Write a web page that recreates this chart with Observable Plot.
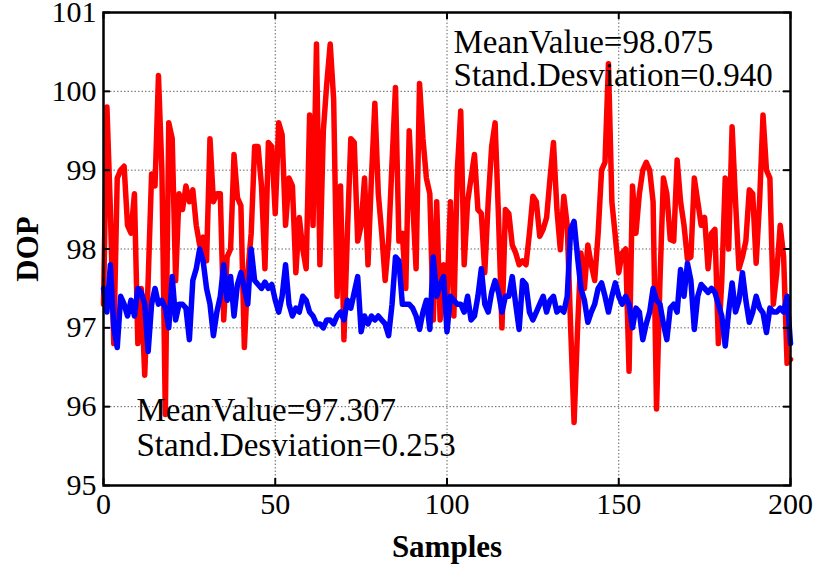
<!DOCTYPE html>
<html>
<head>
<meta charset="utf-8">
<script src="https://cdn.jsdelivr.net/npm/d3@7"></script>
<script src="https://cdn.jsdelivr.net/npm/@observablehq/plot@0.6"></script>
<style>
  html, body { margin: 0; padding: 0; background: #fff; }
</style>
</head>
<body>
<div id="chart"></div>
<script>
const redValues = [
97.3,99.8,98.5,96.8,98.9,99.0,99.05,98.3,98.2,98.7,
96.8,97.5,96.4,97.6,98.95,98.8,100.2,99.0,95.9,99.6,
99.4,97.6,98.7,98.5,98.8,98.6,98.75,98.3,98.05,98.15,
97.85,99.4,98.6,98.7,98.7,97.1,97.9,98.0,99.2,98.65,
98.55,96.75,97.7,98.2,99.3,99.3,98.8,97.75,99.35,99.3,
98.45,99.6,99.45,98.3,98.9,98.8,97.7,98.4,98.0,97.75,
99.7,98.3,100.6,97.8,99.5,100.1,100.6,99.9,97.4,98.8,
96.85,98.2,99.4,99.35,98.1,98.3,98.9,97.8,98.9,99.85,
98.7,98.2,97.6,98.1,99.1,100.05,98.1,98.2,97.5,99.5,
98.6,97.75,100.1,99.4,98.9,98.7,97.1,98.6,97.1,97.8,
97.4,98.6,97.15,99.0,99.75,97.8,98.6,98.9,99.2,98.5,
98.45,97.7,98.6,99.3,99.6,98.4,97.0,98.5,98.45,98.05,
97.95,97.8,97.85,97.8,98.2,98.67,98.6,98.16,98.25,98.4,
98.9,99.35,98.5,97.99,98.67,98.3,97.0,95.8,96.98,97.95,
97.5,98.05,97.8,97.6,98.2,99.0,99.1,100.35,98.6,98.16,
97.7,97.95,98.0,96.45,98.8,98.2,98.7,99.0,99.1,99.0,
98.6,95.97,97.6,98.9,98.7,98.12,98.1,99.13,98.6,98.3,
97.87,97.9,98.9,98.6,98.3,98.4,97.75,98.2,98.25,96.8,
97.6,98.9,98.0,99.55,98.6,97.75,97.9,98.1,98.75,98.7,
97.82,98.6,99.7,99.0,98.9,97.3,97.7,98.3,97.9,96.55,
96.6
];
const blueValues = [
97.5,97.2,97.8,97.0,96.75,97.4,97.3,97.15,97.35,97.15,
97.5,97.45,97.3,96.7,97.3,97.5,97.3,97.35,97.25,97.0,
97.65,97.1,97.3,97.3,97.25,96.85,97.6,97.75,98.0,97.85,
97.5,97.3,96.9,97.2,97.4,97.8,97.35,97.65,97.15,97.55,
97.7,97.5,97.3,98.0,97.6,97.55,97.5,97.58,97.5,97.55,
97.35,97.2,97.4,97.8,97.3,97.15,97.25,97.2,97.4,97.35,
97.2,97.15,97.05,97.05,97.0,97.1,97.1,97.05,97.15,97.2,
97.1,97.35,97.25,97.45,97.65,96.95,97.15,97.05,97.15,97.1,
97.15,97.1,97.05,96.9,97.3,97.9,97.85,97.3,97.3,97.3,
97.25,97.15,96.98,97.2,97.35,96.98,97.9,97.4,97.55,97.65,
96.95,97.4,97.35,97.3,97.3,97.2,97.4,97.1,97.15,97.4,
97.75,97.3,97.2,97.45,97.6,97.45,97.2,97.4,97.4,97.65,
97.3,96.98,97.6,97.55,97.2,97.1,97.2,97.3,97.4,97.2,
97.35,97.4,97.2,97.25,97.2,97.4,98.25,98.35,97.9,97.5,
97.35,97.07,97.2,97.3,97.5,97.57,97.4,97.2,97.4,97.57,
97.4,97.3,97.4,97.3,97.0,97.25,97.2,96.85,97.05,97.2,
97.5,97.35,97.3,97.05,96.85,97.25,97.3,97.2,97.74,97.4,
97.82,97.6,96.98,97.4,97.55,97.5,97.45,97.5,97.45,97.3,
97.15,96.77,97.2,97.57,97.2,97.35,97.7,97.35,97.07,97.2,
97.4,97.25,97.19,96.94,97.25,97.2,97.2,97.25,97.2,97.4,
96.8
];
const xTicks = [0, 50, 100, 150, 200];
const yTicks = [95, 96, 97, 98, 99, 100, 101];
const xGrid = [50, 100, 150];
const yGrid = [96, 97, 98, 99, 100];
const annoLines = ["MeanValue=98.075", "Stand.Desviation=0.940", "MeanValue=97.307", "Stand.Desviation=0.253"];
const annoX = [101.9, 101.9, 9.6, 9.6];
const annoY = [100.49, 100.07, 95.82, 95.38];
const xLabel = "Samples";
const yLabel = "DOP";

const W = 817, H = 566;
const mL = 103, mR = 27, mT = 12, mB = 81;
const fw = W - mL - mR, fh = H - mT - mB;
const tickLen = 7;

const redData = redValues.map((v, i) => ({i, v}));
const blueData = blueValues.map((v, i) => ({i, v}));
const annoData = annoLines.map((t, k) => ({t, x: annoX[k], y: annoY[k]}));

const chart = Plot.plot({
  width: W,
  height: H,
  marginLeft: mL,
  marginRight: mR,
  marginTop: mT,
  marginBottom: mB,
  style: {fontFamily: "'Liberation Serif', 'Times New Roman', serif", fontSize: "30px", color: "black", background: "white", overflow: "visible"},
  x: {domain: [0, 200], ticks: xTicks, tickSize: 0, tickPadding: 7, label: null, tickFormat: d3.format("d")},
  y: {domain: [95, 101], ticks: yTicks, tickSize: 0, tickPadding: 7, label: null, tickFormat: d3.format("d")},
  marks: [
    Plot.ruleY(yGrid, {y: d => d, stroke: "#666", strokeWidth: 1, strokeDasharray: "1.5,2"}),
    Plot.ruleX(xGrid, {x: d => d, stroke: "#666", strokeWidth: 1, strokeDasharray: "1.5,2"}),
    Plot.line(redData, {x: "i", y: "v", stroke: "#ff0000", strokeWidth: 5.5}),
    Plot.line(blueData, {x: "i", y: "v", stroke: "#0000ff", strokeWidth: 5.5}),
    Plot.tickY(yTicks, {y: d => d, stroke: "black", strokeWidth: 2, insetRight: fw - tickLen}),
    Plot.tickY(yTicks, {y: d => d, stroke: "black", strokeWidth: 2, insetLeft: fw - tickLen}),
    Plot.tickX(xTicks, {x: d => d, stroke: "black", strokeWidth: 2, insetTop: fh - tickLen}),
    Plot.tickX(xTicks, {x: d => d, stroke: "black", strokeWidth: 2, insetBottom: fh - tickLen}),
    Plot.frame({stroke: "black", strokeWidth: 2.5}),
    Plot.text(annoData, {x: "x", y: "y", text: "t", textAnchor: "start", lineAnchor: "bottom", fontSize: 33, fill: "black"}),
    Plot.text([xLabel], {text: d => d, frameAnchor: "bottom", textAnchor: "middle", lineAnchor: "middle", dy: 62, fontWeight: "bold", fontSize: 31, fill: "black"}),
    Plot.text([yLabel], {text: d => d, frameAnchor: "left", textAnchor: "middle", lineAnchor: "middle", dx: -75, rotate: -90, fontWeight: "bold", fontSize: 31, fill: "black"})
  ]
});
document.getElementById("chart").appendChild(chart);
</script>
</body>
</html>
